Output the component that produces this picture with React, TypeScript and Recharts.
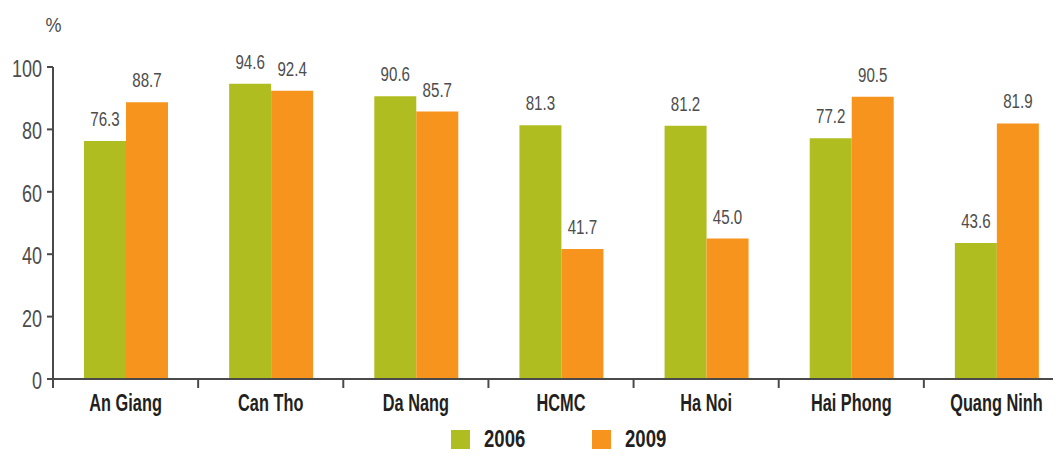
import React from 'react';
import { BarChart, Bar, XAxis, YAxis, LabelList, Legend } from 'recharts';

const categories = ['An Giang', 'Can Tho', 'Da Nang', 'HCMC', 'Ha Noi', 'Hai Phong', 'Quang Ninh'];
const values2006 = [76.3, 94.6, 90.6, 81.3, 81.2, 77.2, 43.6];
const values2009 = [88.7, 92.4, 85.7, 41.7, 45.0, 90.5, 81.9];
const seriesNames = ['2006', '2009'];
const seriesColors = ['#AFBD21', '#F7941D'];
const yTicks = [0, 20, 40, 60, 80, 100];
const boundaryTicks = [0, 1, 2, 3, 4, 5, 6, 7];

const data = categories.map((c, i) => ({ name: c, slot: i, y2006: values2006[i], y2009: values2009[i] }));

const FONT = '"Liberation Sans", Arial, sans-serif';
const AXIS = '#4a4a4a';
const GRAY = '#4d4d4d';
const DARK = '#231f20';

const CondText = ({ x, y, anchor, size, sx, fill, bold, children }: any) => (
  <text transform={`translate(${x},${y}) scale(${sx},1)`} x={0} y={0} textAnchor={anchor}
    fontFamily={FONT} fontSize={size} fontWeight={bold ? 'bold' : 'normal'} fill={fill}>{children}</text>
);

const XTick = (props: any) => (
  <CondText x={props.x} y={props.y + 31} anchor="middle" size={23} sx={0.71} fill={DARK} bold>{props.payload.value}</CondText>
);

const YTick = (props: any) => (
  <CondText x={props.x} y={props.y + 10} anchor="end" size={24} sx={0.75} fill={GRAY}>{props.payload.value}</CondText>
);

const EmptyTick = () => <g />;

const ValueLabel = (props: any) => (
  <CondText x={props.x + props.width / 2} y={props.y - 15} anchor="middle" size={21} sx={0.72} fill={GRAY}>
    {Number(props.value).toFixed(1)}
  </CondText>
);

const PercentLabel = (props: any) => {
  const vb = props.viewBox || {};
  return <CondText x={vb.x + vb.width + 0.5} y={vb.y - 35} anchor="middle" size={20} sx={0.9} fill={GRAY}>%</CondText>;
};

const LegendContent = () => (
  <div style={{ width: 1069, height: 38, display: 'flex', justifyContent: 'center', alignItems: 'center', paddingLeft: 49, boxSizing: 'border-box', fontFamily: FONT, fontWeight: 'bold', fontSize: 23.5, color: DARK }}>
    {seriesNames.map((n, i) => (
      <div key={n} style={{ display: 'flex', alignItems: 'center', marginLeft: i === 0 ? 0 : 66 }}>
        <div style={{ width: 19, height: 19, background: seriesColors[i], marginRight: 14 }} />
        <span style={{ display: 'inline-block', width: 42, whiteSpace: 'nowrap' }}>
          <span style={{ display: 'inline-block', transform: 'scaleX(0.79)', transformOrigin: 'left center' }}>{n}</span>
        </span>
      </div>
    ))}
  </div>
);

export default function App() {
  return (
    <div style={{ position: 'relative', margin: -8, width: 1061, height: 458, overflow: 'hidden', background: '#fff' }}>
      <BarChart width={1069} height={458} data={data} margin={{ top: 67, right: 0, left: 0, bottom: 0 }} barCategoryGap={31} barGap={0}>
        <XAxis xAxisId="b" dataKey="name" height={40} tickLine={false} axisLine={false} tickSize={0} tickMargin={0}
          tick={<XTick />} interval={0} />
        <XAxis xAxisId="a" dataKey="slot" type="number" scale="linear" domain={[0, 7]} ticks={boundaryTicks} tick={<EmptyTick />} tickSize={9} height={1}
          padding={{ left: 0, right: 0 }}
          axisLine={{ stroke: AXIS, strokeWidth: 2 }} tickLine={{ stroke: AXIS, strokeWidth: 2 }} allowDataOverflow interval={0} />
        <YAxis width={53} domain={[0, 100]} ticks={yTicks} tickSize={6} tickMargin={5}
          axisLine={{ stroke: AXIS, strokeWidth: 2 }} tickLine={{ stroke: AXIS, strokeWidth: 2 }}
          tick={<YTick />} label={<PercentLabel />} />
        <Legend verticalAlign="bottom" content={<LegendContent />} />
        {seriesNames.map((n, i) => (
          <Bar key={n} xAxisId="b" dataKey={'y' + n} name={n} fill={seriesColors[i]} isAnimationActive={false}>
            <LabelList dataKey={'y' + n} content={<ValueLabel />} />
          </Bar>
        ))}
      </BarChart>
    </div>
  );
}
